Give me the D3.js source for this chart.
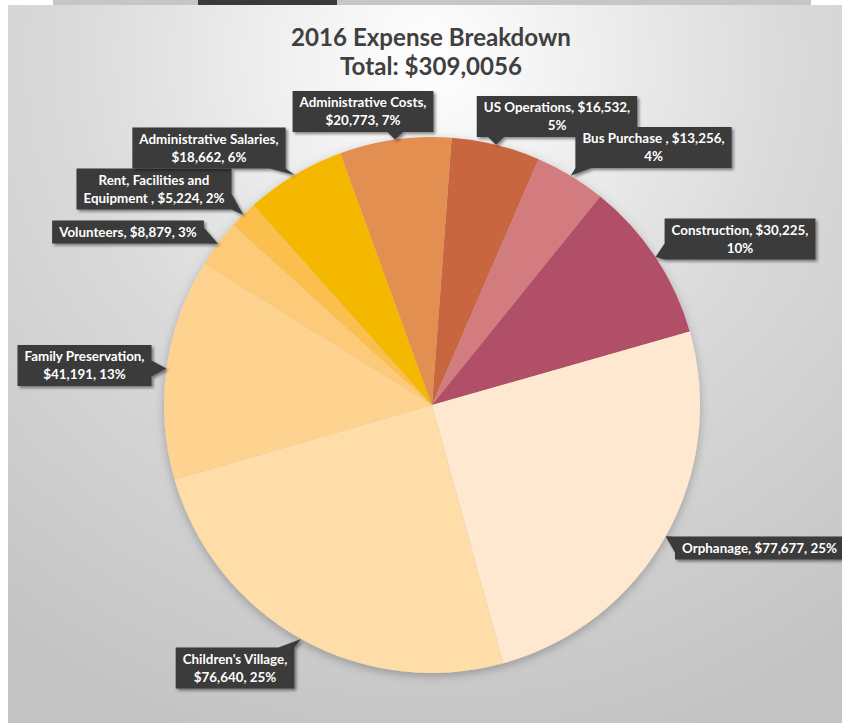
<!DOCTYPE html>
<html><head><meta charset="utf-8">
<script src="https://cdn.jsdelivr.net/npm/d3@7"></script>
<style>html,body{margin:0;padding:0;background:#fff;} svg{display:block}</style>
</head><body>
<svg id="chart" width="842" height="723"></svg>
<script>
// ---- data ----
const categories = ["US Operations", "Bus Purchase ", "Construction", "Orphanage", "Children's Village",
  "Family Preservation", "Volunteers", "Rent, Facilities and Equipment ", "Administrative Salaries", "Administrative Costs"];
const values = [16532, 13256, 30225, 77677, 76640, 41191, 8879, 5224, 18662, 20773];
const colors = ["#C8663F", "#D27C80", "#B24F67", "#FEE8CF", "#FEDDA9", "#FDD38F", "#FCCA78", "#FBBF4E", "#F4B800", "#E38F51"];
const titleLines = ["2016 Expense Breakdown", "Total: $309,0056"];

// ---- layout (not data) ----
const firstLineWords = [3, 4, 2, null, 2, 2, null, 3, 2, 2];
const labelCenters = [[557,116.5],[653.5,147.5],[740,239],[759.5,548],[235,668],[84.5,365.5],[128,232],[154,189],[209,148],[363,111.5]];

const W = 842, H = 723;
const cx = 432, cy = 405, R = 268;
const startOffset = 4.2 * Math.PI / 180;

const svg = d3.select("#chart");
const defs = svg.append("defs");

const bg = defs.append("radialGradient").attr("id","bg").attr("gradientUnits","userSpaceOnUse")
  .attr("cx",430).attr("cy",60).attr("r",720);
bg.append("stop").attr("offset",0).attr("stop-color","#ffffff");
bg.append("stop").attr("offset",0.5).attr("stop-color","#dadada");
bg.append("stop").attr("offset",1).attr("stop-color","#c3c3c3");

const sh = defs.append("filter").attr("id","boxShadow").attr("x","-20%").attr("y","-30%").attr("width","140%").attr("height","160%");
sh.append("feDropShadow").attr("dx",2).attr("dy",2).attr("stdDeviation",1.5).attr("flood-color","#000").attr("flood-opacity",0.45);
const psh = defs.append("filter").attr("id","pieShadow").attr("x","-10%").attr("y","-10%").attr("width","120%").attr("height","120%");
psh.append("feDropShadow").attr("dx",0).attr("dy",3).attr("stdDeviation",5).attr("flood-color","#000").attr("flood-opacity",0.25);

// top strip (cropped remnant)
svg.append("rect").attr("x",53).attr("y",0).attr("width",758).attr("height",5).attr("fill","#c6c6c6");
svg.append("rect").attr("x",198).attr("y",0).attr("width",139).attr("height",5).attr("fill","#3a3a3a");
// chart area
svg.append("rect").attr("x",8).attr("y",5).attr("width",W-8).attr("height",H-5).attr("fill","url(#bg)");

// title
const fontFam = "Lato, 'Open Sans', sans-serif";
const title = svg.append("g").attr("fill","#404040").attr("font-family",fontFam).attr("font-weight","bold").attr("text-anchor","middle");
const t1 = title.append("text").attr("x",431).attr("y",46).attr("font-size",24).text(titleLines[0]);
const tw = t1.node().getComputedTextLength();
const titleSize = 24 * 280 / tw;
t1.attr("font-size", titleSize);
title.append("text").attr("x",431).attr("y",75).attr("font-size",titleSize).text(titleLines[1]);

// pie
const pie = d3.pie().sort(null).value(d => d).startAngle(startOffset).endAngle(startOffset + 2*Math.PI);
const arcs = pie(values);
const arc = d3.arc().innerRadius(0).outerRadius(R);
const edge = d3.arc().innerRadius(R).outerRadius(R);
const total = d3.sum(values);
const pieG = svg.append("g").attr("transform",`translate(${cx},${cy})`).attr("filter","url(#pieShadow)");
pieG.selectAll("path").data(arcs).join("path").attr("d",arc).attr("fill",(d,i)=>colors[i]);

// labels
const fmt = d3.format(",");
const labelG = svg.append("g").attr("font-family",fontFam).attr("font-weight","bold");
// measure label font
const probe = labelG.append("text").attr("font-size",12).text("Administrative Costs,");
const labelSize = 12 * 127 / probe.node().getComputedTextLength();
probe.remove();
const lineH = 18, padX = 7;

arcs.forEach((d,i) => {
  const full = `${categories[i]}, $${fmt(values[i])}, ${Math.round(values[i]/total*100)}%`;
  const words = full.split(" ");
  const lines = firstLineWords[i] ? [words.slice(0, firstLineWords[i]).join(" "), words.slice(firstLineWords[i]).join(" ")] : [full];
  const g = labelG.append("g");
  const shape = g.append("path").attr("fill","#3a3a3a").attr("filter","url(#boxShadow)");
  const [lx, ly] = labelCenters[i];
  const texts = lines.map((ln, k) => g.append("text").attr("x",lx).attr("text-anchor","middle")
    .attr("font-size",labelSize).attr("fill","#ffffff")
    .attr("y", ly - (lines.length-1)*lineH/2 + k*lineH + labelSize*0.36).text(ln));
  const wMax = d3.max(texts, t => t.node().getComputedTextLength());
  const bw = wMax + 2*padX, bh = lines.length*lineH + 5;
  const x0 = lx - bw/2, x1 = lx + bw/2, y0 = ly - bh/2, y1 = ly + bh/2;
  const [ex, ey] = edge.centroid(d);
  const tx = cx + ex, ty = cy + ey;
  const dxo = Math.max(x0 - tx, tx - x1, 0), dyo = Math.max(y0 - ty, ty - y1, 0);
  const hw = 8;
  let p = `M${x0},${y0}`;
  if (dxo > 1.5*dyo) {
    const by = Math.max(y0 + hw, Math.min(y1 - hw, ty));
    if (tx < x0) p += `H${x1}V${y1}H${x0}V${by+hw}L${tx},${ty}L${x0},${by-hw}Z`;
    else p += `H${x1}V${by-hw}L${tx},${ty}L${x1},${by+hw}V${y1}H${x0}Z`;
  } else {
    const bx = Math.max(x0 + hw, Math.min(x1 - hw, tx));
    if (ty < y0) p += `H${bx-hw}L${tx},${ty}L${bx+hw},${y0}H${x1}V${y1}H${x0}Z`;
    else p += `H${x1}V${y1}H${bx+hw}L${tx},${ty}L${bx-hw},${y1}H${x0}Z`;
  }
  shape.attr("d", p);
});
</script>
</body></html>
